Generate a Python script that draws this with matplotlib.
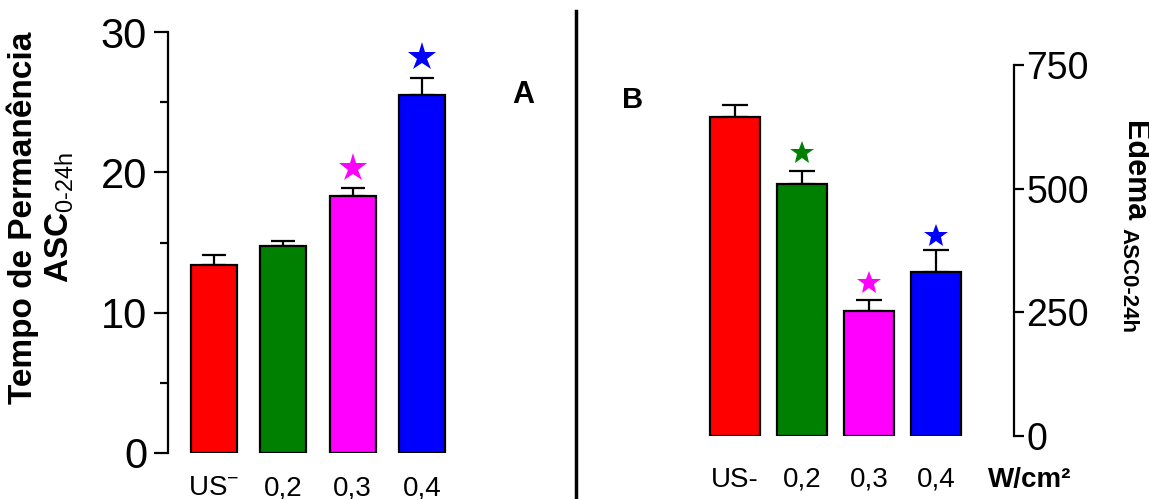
import numpy as np
import matplotlib
matplotlib.use('Agg')
from matplotlib import pyplot as plt
from matplotlib.lines import Line2D

plt.rcParams['font.family'] = ['Liberation Sans', 'DejaVu Sans']
plt.rcParams['mathtext.fontset'] = 'custom'
plt.rcParams['mathtext.rm'] = 'Liberation Sans'
plt.rcParams['mathtext.bf'] = 'Liberation Sans:bold'
plt.rcParams['mathtext.it'] = 'Liberation Sans:italic'

# panel A - tempo de permanencia
groups_a = ['US$^{-}$', '0,2', '0,3', '0,4']
tempo_mean = [13.4, 14.75, 18.3, 25.5]
tempo_sem = [0.7, 0.35, 0.6, 1.2]
tempo_star = [None, None, 20.3, 28.2]

# panel B - edema
groups_b = ['US-', '0,2', '0,3', '0,4']
edema_mean = [645, 510, 252, 332]
edema_sem = [25, 26, 23, 45]
edema_star = [None, 572, 310, 405]

bar_colors = ['#ff0000', '#008000', '#ff00ff', '#0000ff']

W, H = 1149, 499


def px(l, t, r, b):
    # pixel box -> figure fraction
    return [l / W, 1 - b / H, (r - l) / W, (b - t) / H]


fig = plt.figure(figsize=(W / 100, H / 100), dpi=100)

# ---- A ----
axA = fig.add_axes(px(168, 32, 470, 453))
x = np.arange(len(groups_a))
axA.bar(x, tempo_mean, width=0.664, color=bar_colors, edgecolor='black', linewidth=1.6, zorder=2)
axA.errorbar(x, tempo_mean, yerr=[np.zeros(len(x)), tempo_sem], fmt='none', ecolor='black',
             elinewidth=1.6, capsize=8.6, capthick=1.6, zorder=1)
for i, s in enumerate(tempo_star):
    if s is not None:
        axA.plot(i, s, marker='*', ms=21, color=bar_colors[i], mew=0, clip_on=False)
axA.set_xlim(-0.664, 3.693)
axA.set_ylim(0, 30)
for sp in ['top', 'right', 'bottom']:
    axA.spines[sp].set_visible(False)
axA.spines['left'].set_linewidth(1.6)
axA.set_yticks([0, 10, 20, 30])
axA.set_yticks([5, 15, 25], minor=True)
axA.tick_params(axis='y', which='major', length=10, width=1.6, labelsize=30, pad=5)
axA.tick_params(axis='y', which='minor', length=6, width=1.6)
axA.set_xticks(x)
axA.set_xticklabels(groups_a)
axA.tick_params(axis='x', length=0, labelsize=20, pad=16)

# ---- B ----
axB = fig.add_axes(px(690, 65, 1014, 436))
xb = np.arange(len(groups_b))
axB.bar(xb, edema_mean, width=0.746, color=bar_colors, edgecolor='black', linewidth=1.6, zorder=2)
axB.errorbar(xb, edema_mean, yerr=[np.zeros(len(xb)), edema_sem], fmt='none', ecolor='black',
             elinewidth=1.6, capsize=9.4, capthick=1.6, zorder=1)
for i, s in enumerate(edema_star):
    if s is not None:
        axB.plot(i, s, marker='*', ms=18, color=bar_colors[i], mew=0, clip_on=False)
axB.set_xlim(-0.672, 4.164)
axB.set_ylim(0, 750)
for sp in ['top', 'left', 'bottom']:
    axB.spines[sp].set_visible(False)
axB.spines['right'].set_linewidth(1.6)
axB.yaxis.tick_right()
axB.set_yticks([0, 250, 500, 750])
axB.tick_params(axis='y', length=7, width=1.6, labelsize=27, pad=2)
axB.set_xticks(xb)
axB.set_xticklabels(groups_b)
axB.tick_params(axis='x', length=0, labelsize=20, pad=22)

# labels
fig.text(23 / W, 1 - 218 / H, 'Tempo de Permanência', rotation=90, fontsize=24,
         fontweight='bold', ha='center', va='center')
fig.text(60 / W, 1 - 217 / H, 'ASC$_{\\mathrm{0\\text{-}24h}}$', rotation=90, fontsize=24,
         fontweight='bold', ha='center', va='center')
fig.text(1134 / W, 1 - 171 / H, 'Edema', rotation=270, fontsize=22,
         fontweight='bold', ha='center', va='center')
fig.text(1128 / W, 1 - 281 / H, 'ASC0-24h', rotation=270, fontsize=16,
         fontweight='bold', ha='center', va='center')
fig.text(1030 / W, 1 - 480 / H, 'W/cm²', fontsize=20, fontweight='bold', ha='center', va='center')
fig.text(523 / W, 1 - 95 / H, 'A', fontsize=22, fontweight='bold', ha='center', va='center')
fig.text(633 / W, 1 - 100 / H, 'B', fontsize=21, fontweight='bold', ha='center', va='center')

# separator
fig.add_artist(Line2D([576 / W, 576 / W], [1 - 11 / H, 0], color='black', lw=2.5))

fig.savefig('out.png', dpi=100)
